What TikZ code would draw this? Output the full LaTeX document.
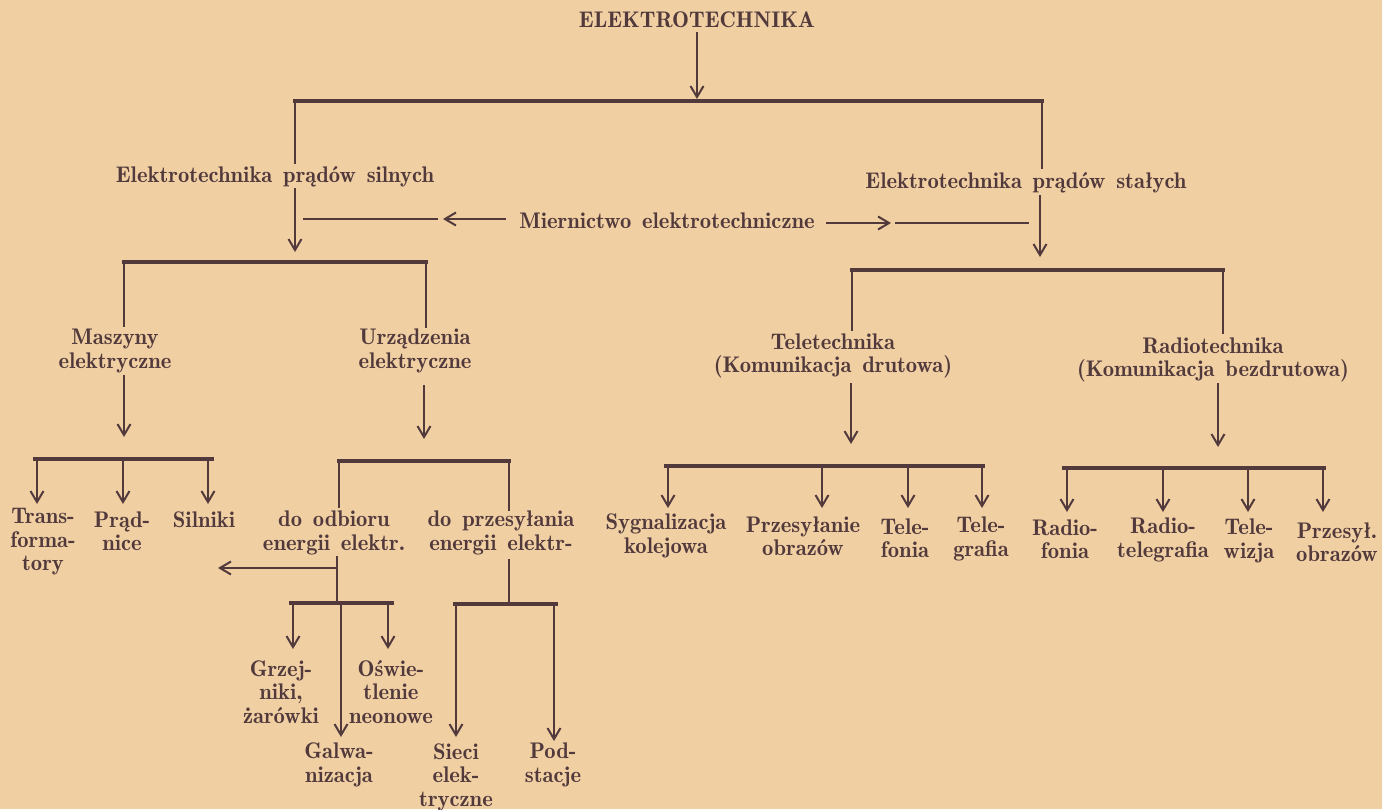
\documentclass[tikz,border=0pt]{standalone}
\usetikzlibrary{arrows.meta}
\definecolor{paper}{RGB}{240,207,163}
\definecolor{ink}{RGB}{82,58,60}
\newcommand{\diagfont}{\fontsize{11.3}{11.75}\fontseries{b}\selectfont\spaceskip=5.4pt plus 1pt minus 0.5pt\relax}
\begin{document}
\begin{tikzpicture}[x=0.5pt,y=-0.5pt,
  lbl/.style={inner sep=0pt, align=center, text=ink, font=\diagfont},
  bar/.style={draw=ink, line width=1.6pt, line cap=rect},
  vln/.style={draw=ink, line width=1.25pt},
  arr/.style={draw=ink, line width=1pt, -{Straight Barb[length=5.5pt,width=6.5pt]}},
]
\fill[paper] (0,0) rectangle (1382,809);
\useasboundingbox (0,0) rectangle (1382,809);

% ---------- texts ----------
\node[lbl] (root)  at (697,20)  {ELEKTROTECHNIKA};
\node[lbl] (silne) at (275,177) {Elektrotechnika prądów silnych};
\node[lbl] (stale) at (1026,183) {Elektrotechnika prądów stałych};
\node[lbl] (mier)  at (667,221) {Miernictwo elektrotechniczne};
\node[lbl] (masz)  at (115,351) {Maszyny\\elektryczne};
\node[lbl] (urz)   at (415,351) {Urządzenia\\elektryczne};
\node[lbl] (tele)  at (833,356) {Teletechnika\\(Komunikacja drutowa)};
\node[lbl] (radio) at (1213,360) {Radiotechnika\\(Komunikacja bezdrutowa)};
\node[lbl] (trans) at (43,542)  {Trans-\\forma-\\tory};
\node[lbl] (pradn) at (122,531) {Prąd-\\nice};
\node[lbl] (siln)  at (204,520) {Silniki};
\node[lbl] (odb)   at (334,533) {do odbioru\\energii elektr.};
\node[lbl] (przes) at (501,533) {do przesyłania\\energii elektr-};
\node[lbl] (grz)   at (281,692) {Grzej-\\niki,\\żarówki};
\node[lbl] (osw)   at (391,692) {Oświe-\\tlenie\\neonowe};
\node[lbl] (galw)  at (339,765) {Galwa-\\nizacja};
\node[lbl] (sieci) at (456,777) {Sieci\\elek-\\tryczne};
\node[lbl] (pod)   at (553,765) {Pod-\\stacje};
\node[lbl] (syg)   at (666,536) {Sygnalizacja\\kolejowa};
\node[lbl] (prz)   at (803,536) {Przesyłanie\\obrazów};
\node[lbl] (telef) at (905,538) {Tele-\\fonia};
\node[lbl] (teleg) at (981,539) {Tele-\\grafia};
\node[lbl] (radf)  at (1065,539) {Radio-\\fonia};
\node[lbl] (radt)  at (1163,540) {Radio-\\telegrafia};
\node[lbl] (telw)  at (1249,541) {Tele-\\wizja};
\node[lbl] (przo)  at (1337,542) {Przesył.\\obrazów};

% ---------- level 0 ----------
\coordinate (r0) at (697,32);  \coordinate (r1) at (697,99);
\draw[arr] (r0) -- (r1);
\coordinate (aL) at (295,101);  \coordinate (aR) at (1042,101);
\coordinate (aLb) at (295,164); \coordinate (aRb) at (1042,169);
\draw[bar] (aL) -- (aR);
\draw[vln] (aL) -- (aLb);
\draw[vln] (aR) -- (aRb);

% ---------- Miernictwo ----------
\coordinate (mL0) at (303,219); \coordinate (mL1) at (438,219);
\coordinate (mLa0) at (506,219); \coordinate (mLa1) at (443,219);
\draw[vln] (mL0) -- (mL1);
\draw[arr] (mLa0) -- (mLa1);
\coordinate (mR0) at (826,223); \coordinate (mR1) at (891,223);
\coordinate (mR2) at (895,223); \coordinate (mR3) at (1029,223);
\draw[arr] (mR0) -- (mR1);
\draw[vln] (mR2) -- (mR3);

% ---------- silne branch ----------
\coordinate (s0) at (295,188); \coordinate (s1) at (295,252);
\draw[arr] (s0) -- (s1);
\coordinate (bL) at (124,262); \coordinate (bR) at (426,262);
\coordinate (bLb) at (124,327); \coordinate (bRb) at (426,328);
\draw[bar] (bL) -- (bR);
\draw[vln] (bL) -- (bLb);
\draw[vln] (bR) -- (bRb);

% Maszyny
\coordinate (ma0) at (124,375); \coordinate (ma1) at (124,437);
\draw[arr] (ma0) -- (ma1);
\coordinate (dL) at (35,459); \coordinate (dR) at (212,459);
\draw[bar] (dL) -- (dR);
\foreach \x [count=\i] in {37,123,208} {
  \coordinate (d\i a) at (\x,459); \coordinate (d\i b) at (\x,504);
  \draw[arr] (d\i a) -- (d\i b);
}

% Urzadzenia
\coordinate (u0) at (424,385); \coordinate (u1) at (424,439);
\draw[arr] (u0) -- (u1);
\coordinate (eL) at (339,461); \coordinate (eR) at (509,461);
\coordinate (eLb) at (339,508); \coordinate (eRb) at (509,511);
\draw[bar] (eL) -- (eR);
\draw[vln] (eL) -- (eLb);
\draw[vln] (eR) -- (eRb);

% do odbioru
\coordinate (o0) at (337,556); \coordinate (o1) at (337,603);
\draw[vln] (o0) -- (o1);
\coordinate (oa0) at (337,568); \coordinate (oa1) at (218,568);
\draw[arr] (oa0) -- (oa1);
\coordinate (fL) at (291,603); \coordinate (fR) at (392,603);
\draw[bar] (fL) -- (fR);
\coordinate (f1a) at (293,603); \coordinate (f1b) at (293,649);
\coordinate (f2a) at (388,603); \coordinate (f2b) at (388,649);
\coordinate (f3a) at (341,603); \coordinate (f3b) at (341,737);
\draw[arr] (f1a) -- (f1b);
\draw[arr] (f2a) -- (f2b);
\draw[arr] (f3a) -- (f3b);

% do przesylania
\coordinate (p0) at (509,559); \coordinate (p1) at (509,604);
\draw[vln] (p0) -- (p1);
\coordinate (gL) at (455,604); \coordinate (gR) at (556,604);
\draw[bar] (gL) -- (gR);
\coordinate (g1a) at (456,604); \coordinate (g1b) at (456,737);
\coordinate (g2a) at (554,604); \coordinate (g2b) at (554,741);
\draw[arr] (g1a) -- (g1b);
\draw[arr] (g2a) -- (g2b);

% ---------- stale branch ----------
\coordinate (t0) at (1040,195); \coordinate (t1) at (1040,257);
\draw[arr] (t0) -- (t1);
\coordinate (cL) at (852,270); \coordinate (cR) at (1223,270);
\coordinate (cLb) at (852,331); \coordinate (cRb) at (1223,334);
\draw[bar] (cL) -- (cR);
\draw[vln] (cL) -- (cLb);
\draw[vln] (cR) -- (cRb);

% Teletechnika
\coordinate (te0) at (851,383); \coordinate (te1) at (851,444);
\draw[arr] (te0) -- (te1);
\coordinate (hL) at (666,466); \coordinate (hR) at (983,466);
\draw[bar] (hL) -- (hR);
\foreach \x [count=\i] in {668,822,908,982} {
  \coordinate (h\i a) at (\x,466); \coordinate (h\i b) at (\x,508);
  \draw[arr] (h\i a) -- (h\i b);
}

% Radiotechnika
\coordinate (ra0) at (1218,383); \coordinate (ra1) at (1218,447);
\draw[arr] (ra0) -- (ra1);
\coordinate (iL) at (1064,468); \coordinate (iR) at (1324,468);
\draw[bar] (iL) -- (iR);
\foreach \x [count=\i] in {1067,1163,1248,1323} {
  \coordinate (i\i a) at (\x,468); \coordinate (i\i b) at (\x,512);
  \draw[arr] (i\i a) -- (i\i b);
}
\end{tikzpicture}
\end{document}
